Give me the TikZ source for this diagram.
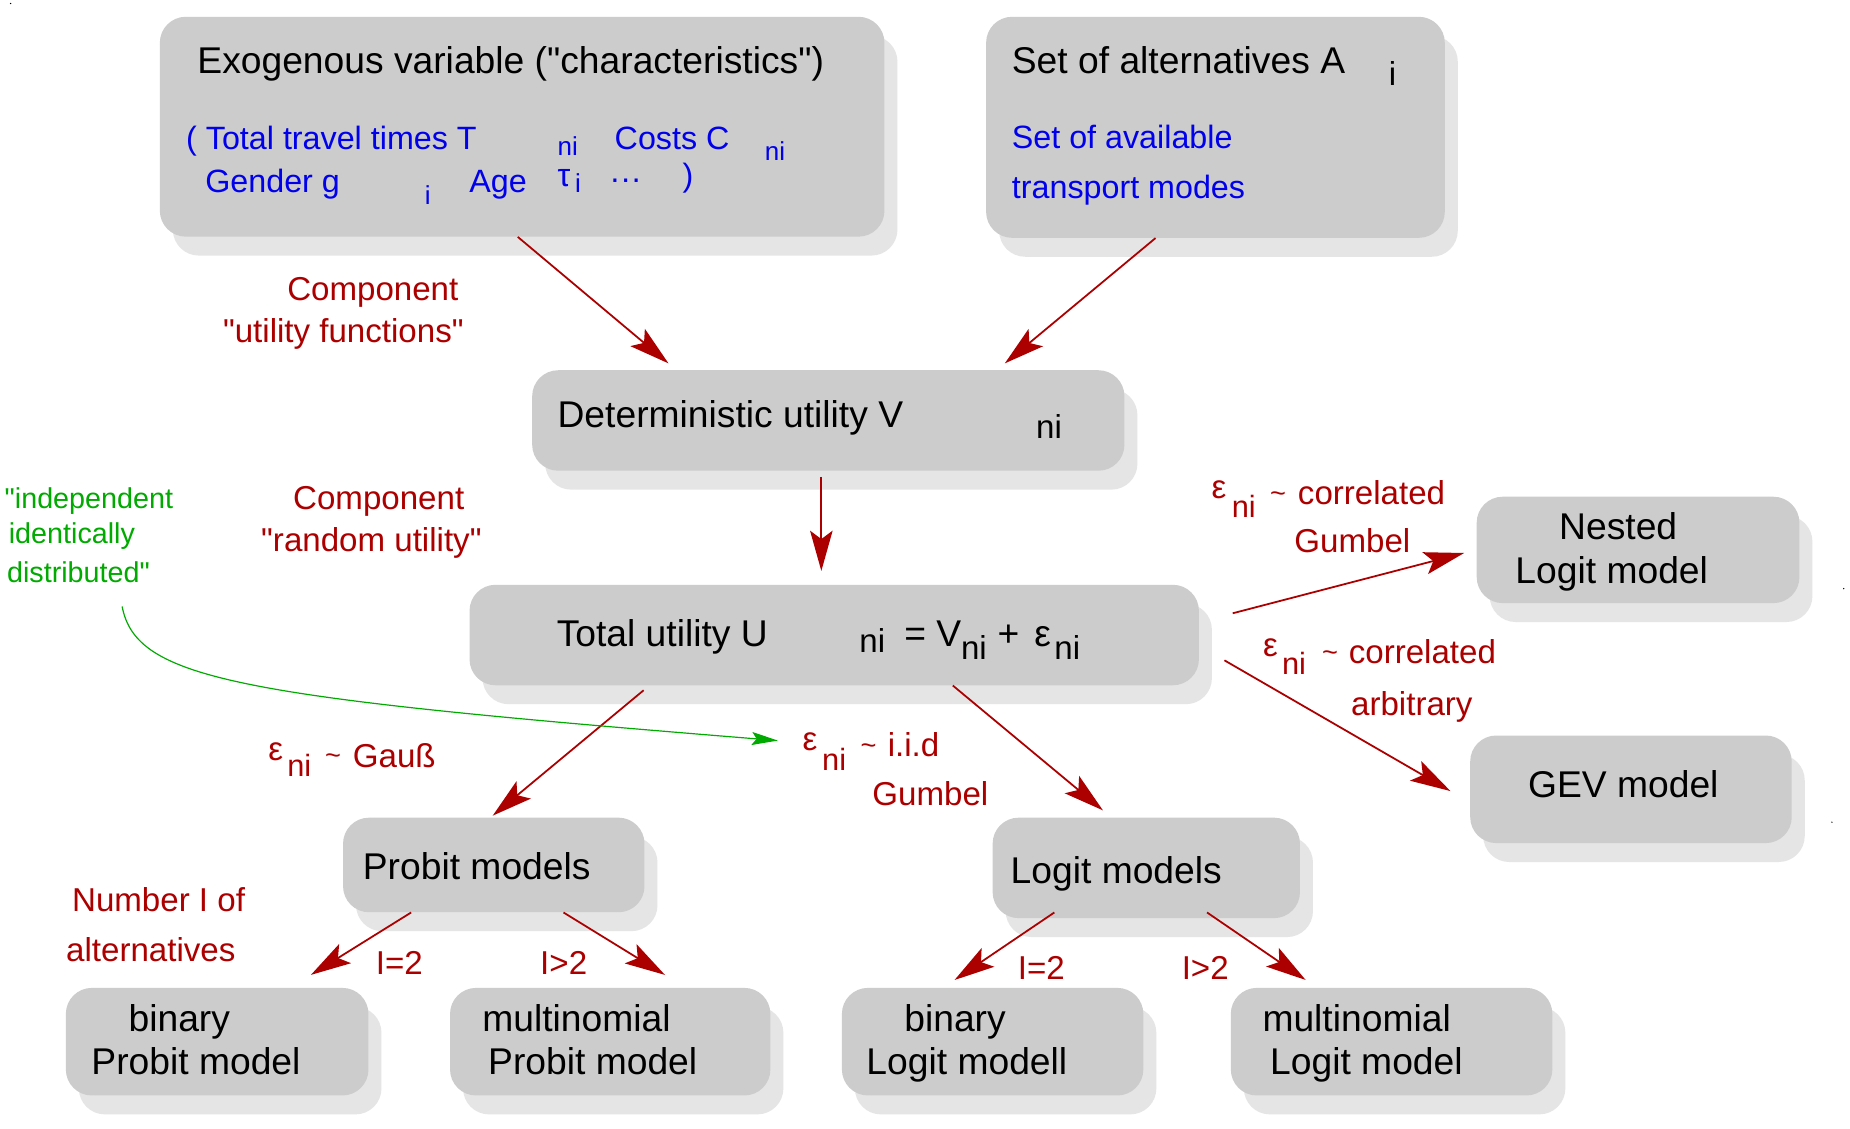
\documentclass[tikz,border=0pt]{standalone}
\usepackage{fontspec}
\setmainfont{Liberation Sans}[Ligatures=TeXOff]
\usetikzlibrary{arrows.meta,shadows}
\definecolor{boxgray}{RGB}{204,204,204}
\definecolor{shadowgray}{RGB}{229,229,229}
\definecolor{tred}{RGB}{172,0,0}
\definecolor{tblue}{RGB}{0,0,235}
\definecolor{tgreen}{RGB}{0,170,0}
\newcommand\myfs[1]{\fontsize{#1}{#1}\selectfont}
\begin{document}
\begin{tikzpicture}[x=1pt,y=-1pt,
  box/.style={fill=boxgray, rounded corners=22pt, inner sep=0pt, anchor=north west,
    drop shadow={shadow xshift=11pt, shadow yshift=-16pt, opacity=1, fill=shadowgray}},
  txt/.style={anchor=base west, inner sep=0pt, outer sep=0pt},
  bk/.style={txt, font=\myfs{31.5}},
  bks/.style={txt, font=\myfs{28}},
  bl/.style={txt, text=tblue, font=\myfs{27.3}},
  bls/.style={txt, text=tblue, font=\myfs{22}},
  rd/.style={txt, text=tred, font=\myfs{28}},
  rds/.style={txt, text=tred, font=\myfs{26}},
  rdt/.style={txt, text=tred, font=\myfs{23}},
  gr/.style={txt, text=tgreen, font=\myfs{24.3}},
  arr/.style={draw=tred, line width=1.5pt, -{Stealth[length=34pt,width=19pt,inset=7pt]}},
  garr/.style={draw=tgreen, line width=1pt, -{Stealth[length=22pt,width=11pt,inset=4pt]}}
]
\useasboundingbox[fill=white] (0,0) rectangle (1565,954.3);

% boxes
\node[box, minimum width=613pt, minimum height=186pt] (exo) at (135,14) {};
\node[box, minimum width=388pt, minimum height=187pt] (alt) at (834,14) {};
\node[box, minimum width=501pt, minimum height=85pt] (det) at (450,313) {};
\node[box, minimum width=617pt, minimum height=85pt] (tot) at (397,494.5) {};
\node[box, minimum width=273pt, minimum height=90pt] (nest) at (1249,420) {};
\node[box, minimum width=272pt, minimum height=91pt] (gev) at (1243.5,622) {};
\node[box, minimum width=255pt, minimum height=80pt] (prob) at (290,691.5) {};
\node[box, minimum width=260pt, minimum height=85pt] (logit) at (839.5,691.5) {};
\node[box, minimum width=256pt, minimum height=91pt] (bprob) at (55.5,835.5) {};
\node[box, minimum width=271pt, minimum height=91pt] (mprob) at (380.5,835.5) {};
\node[box, minimum width=255pt, minimum height=91pt] (blog) at (712,835.5) {};
\node[box, minimum width=272pt, minimum height=91pt] (mlog) at (1041,835.5) {};

% texts in boxes
\node[bk] (exoT) at (167,62.4) {Exogenous variable ("characteristics")};
\node[bl] (exoA) at (157.5,126.2) {( Total travel times T};
\node[bls] (exoB) at (471.7,131.5) {ni};
\node[bl] (exoC) at (520,126.2) {Costs C};
\node[bls] (exoD) at (647,136) {ni};
\node[bl] (exoE) at (173.7,162.8) {Gender g};
\node[bls] (exoF) at (359.4,172.9) {i};
\node[bl] (exoG) at (397,162.8) {Age};
\node[bl] (exoH) at (471.7,157.5) {τ};
\node[bls] (exoI) at (486.6,162.8) {i};
\node[bl] (exoJ) at (515.6,160) {···};
\node[bl] (exoK) at (577.5,158) {)};

\node[bk] (altT) at (856,62.4) {Set of alternatives A};
\node[bks] (altI) at (1175,72.4) {i};
\node[bl] (altA) at (856,126) {Set of available};
\node[bl] (altB) at (856,168) {transport modes};

\node[bk] (detT) at (471.7,361.5) {Deterministic utility V};
\node[bks] (detI) at (876.5,370.6) {ni};

\node[bk] (totT) at (471,547) {Total utility U};
\node[bks] (totA) at (727,552) {ni};
\node[bk] (totB) at (765,547) {= V};
\node[bks] (totC) at (813,558) {ni};
\node[bk] (totD) at (844,547) {+};
\node[bk] (totE) at (875,547) {ε};
\node[bks] (totF) at (892,558) {ni};

\node[bk] (nestA) at (1319,456.8) {Nested};
\node[bk] (nestB) at (1282,494) {Logit model};
\node[bk] (gevT) at (1292.7,675) {GEV model};
\node[bk] (probT) at (307,744) {Probit models};
\node[bk] (logitT) at (855,747.4) {Logit models};
\node[bk] (bprobA) at (108.8,872.8) {binary};
\node[bk] (bprobB) at (77.4,909) {Probit model};
\node[bk] (mprobA) at (408,872.8) {multinomial};
\node[bk] (mprobB) at (413,909) {Probit model};
\node[bk] (blogA) at (765,872.8) {binary};
\node[bk] (blogB) at (733,909) {Logit modell};
\node[bk] (mlogA) at (1068,872.8) {multinomial};
\node[bk] (mlogB) at (1074.5,909) {Logit model};

% red labels
\node[rd] (c1a) at (243,254) {Component};
\node[rd] (c1b) at (188.7,290) {"utility functions"};
\node[rd] (c2a) at (248,430.7) {Component};
\node[rd] (c2b) at (221,466.5) {"random utility"};

\node[rd] (eps1) at (227,643) {ε};
\node[rds] (eps1n) at (243,656.7) {ni};
\node[rdt] (eps1t) at (275,647) {\textasciitilde};
\node[rd] (eps1g) at (298.5,649) {Gauß};

\node[rd] (eps2) at (679,634.5) {ε};
\node[rds] (eps2n) at (695.5,651.5) {ni};
\node[rdt] (eps2t) at (728,638) {\textasciitilde};
\node[rd] (eps2g) at (751,640) {i.i.d};
\node[rd] (eps2h) at (738,681) {Gumbel};

\node[rd] (eps3) at (1025,421.5) {ε};
\node[rds] (eps3n) at (1042,437.6) {ni};
\node[rdt] (eps3t) at (1074.5,425.5) {\textasciitilde};
\node[rd] (eps3g) at (1098,427) {correlated};
\node[rd] (eps3h) at (1095,467) {Gumbel};

\node[rd] (eps4) at (1068.5,555) {ε};
\node[rds] (eps4n) at (1084.6,571) {ni};
\node[rdt] (eps4t) at (1118.5,559.5) {\textasciitilde};
\node[rd] (eps4g) at (1141,561) {correlated};
\node[rd] (eps4h) at (1143,605) {arbitrary};

\node[rd] (numA) at (61,771) {Number I of};
\node[rd] (numB) at (56,813.5) {alternatives};
\node[rd] (l1) at (318,824) {I=2};
\node[rd] (l2) at (457,824) {I>2};
\node[rd] (l3) at (861,828.7) {I=2};
\node[rd] (l4) at (999.7,828.7) {I>2};

% green labels
\node[gr] (gA) at (4,430) {"independent};
\node[gr] (gB) at (7.5,460) {identically};
\node[gr] (gC) at (6,492.4) {distributed"};

% connectors
\draw[arr] ([xshift=303pt]exo.south west) -- ([xshift=115.5pt,yshift=5.6pt]det.north west);
\draw[arr] ([xshift=143.5pt]alt.south west) -- ([xshift=400pt,yshift=5.6pt]det.north west);
\draw[arr] ([xshift=244.8pt,yshift=-5pt]det.south west) -- ([xshift=297.8pt,yshift=11.5pt]tot.north west);
\draw[arr] ([xshift=147.5pt,yshift=-4pt]tot.south west) -- ([xshift=126.8pt,yshift=1.5pt]prob.north west);
\draw[arr] ([xshift=409pt]tot.south west) -- ([xshift=93.5pt,yshift=6pt]logit.north west);
\draw[arr] ([xshift=28.4pt,yshift=18.4pt]tot.east) -- ([xshift=-10.4pt,yshift=-2.6pt]nest.west);
\draw[arr] ([xshift=21.4pt,yshift=-21.4pt]tot.east) -- ([xshift=-16.5pt,yshift=-1.5pt]gev.west);
\draw[arr] ([xshift=57.8pt]prob.south west) -- ([xshift=207.5pt,yshift=10.8pt]bprob.north west);
\draw[arr] ([xshift=186.7pt]prob.south west) -- ([xshift=182pt,yshift=10.8pt]mprob.north west);
\draw[arr] ([xshift=52.4pt,yshift=5pt]logit.south west) -- ([xshift=95.5pt,yshift=6.5pt]blog.north west);
\draw[arr] ([xshift=181.6pt,yshift=5pt]logit.south west) -- ([xshift=63.5pt,yshift=6.5pt]mlog.north west);
\draw[garr] ([xshift=97.3pt,yshift=-20.6pt]gC.base west) .. controls +(12,62) and +(-458,-37) .. ([xshift=-21pt,yshift=8pt]eps2.base west);

% stray dots
\fill (9,3) circle (0.6);
\fill (1559.7,497.9) circle (0.6);
\fill (1549.7,695.5) circle (0.6);
\end{tikzpicture}
\end{document}
